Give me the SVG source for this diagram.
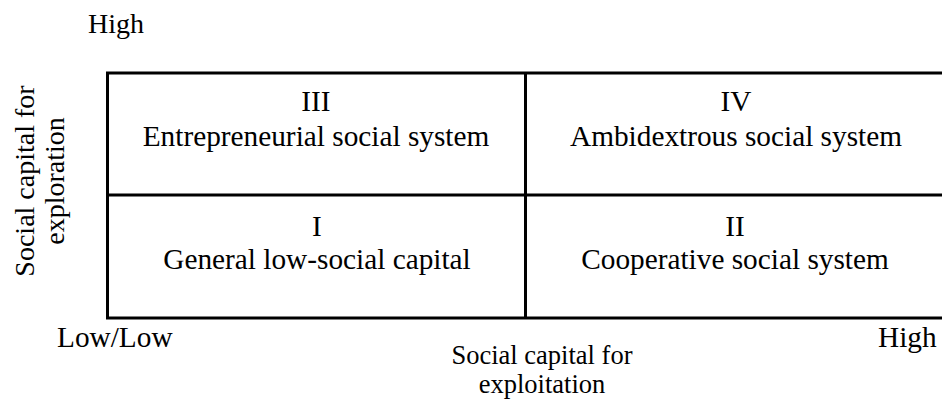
<svg xmlns="http://www.w3.org/2000/svg" width="942" height="407" viewBox="0 0 942 407">
<style>
text{font-family:"Liberation Serif","Times New Roman",serif;font-size:28px;fill:#000}
.c{text-anchor:middle}
.q{font-size:29.3px}
.x{font-size:26.5px}
.ln{fill:none;stroke:#000;stroke-width:3}
</style>
<rect x="0" y="0" width="942" height="407" fill="#fff"/>
<g id="grid">
<rect class="ln" x="107.5" y="73" width="845" height="245"/>
<line class="ln" x1="107.5" y1="195" x2="952" y2="195"/>
<line class="ln" x1="525.5" y1="73" x2="525.5" y2="318"/>
</g>
<g id="q3">
<text class="c q" x="316" y="111">III</text>
<text class="c q" x="316" y="146">Entrepreneurial social system</text>
</g>
<g id="q4">
<text class="c q" x="736" y="111">IV</text>
<text class="c q" x="736" y="146">Ambidextrous social system</text>
</g>
<g id="q1">
<text class="c q" x="317" y="236">I</text>
<text class="c q" x="317" y="269">General low-social capital</text>
</g>
<g id="q2">
<text class="c q" x="735" y="236">II</text>
<text class="c q" x="735" y="269">Cooperative social system</text>
</g>
<g id="axes">
<text x="88" y="33">High</text>
<text x="57" y="347" class="q">Low/Low</text>
<text x="878" y="347" class="q">High</text>
<text class="c x" x="542" y="364">Social capital for</text>
<text class="c x" x="542" y="393">exploitation</text>
<text class="c" transform="translate(34,181) rotate(-90)">Social capital for</text>
<text class="c" transform="translate(64,181) rotate(-90)">exploration</text>
</g>
</svg>
